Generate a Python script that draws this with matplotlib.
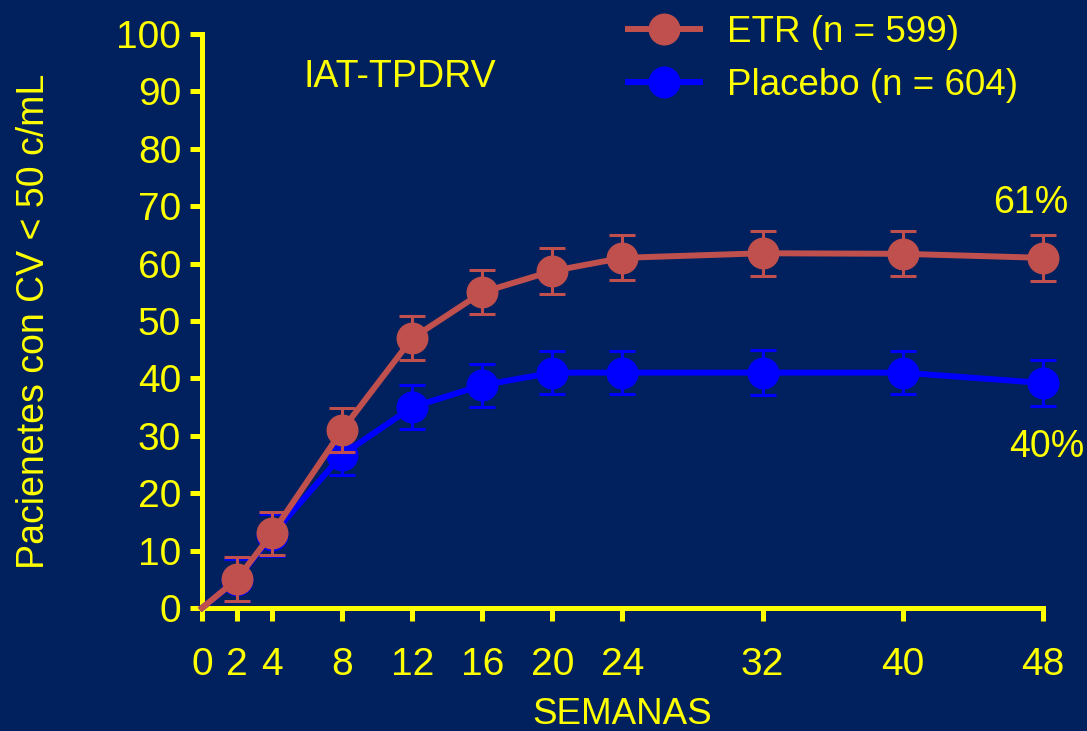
import matplotlib.pyplot as plt
from matplotlib.lines import Line2D

# Semanas de seguimiento
semanas = [0, 2, 4, 8, 12, 16, 20, 24, 32, 40, 48]

# % pacientes con CV < 50 c/mL
etr = [0, 5, 13, 31, 47, 55, 58.7, 61, 61.8, 61.7, 61]
etr_err = [0, 3.8, 3.8, 3.8, 3.8, 3.8, 4, 3.9, 3.9, 3.9, 4]

placebo = [0, 4.9, 12.7, 26.7, 35, 38.8, 41, 41, 41, 41, 39.2]
placebo_err = [0, 3.7, 3.7, 3.5, 3.9, 3.7, 3.8, 3.8, 3.9, 3.8, 4]

yticks = list(range(0, 101, 10))

FONDO = '#00205E'
AMARILLO = '#FFFF00'
ROJO = '#C0504D'
AZUL = '#0000FF'

plt.rcParams['font.family'] = ['Liberation Sans', 'DejaVu Sans']

fig = plt.figure(figsize=(10.87, 7.31), dpi=100, facecolor=FONDO)
ax = fig.add_axes([0.1858, 0.1683, 0.7737, 0.7852], facecolor=FONDO)

def serie(y, err, color, z):
  # linea desde el origen, marcadores con barras de error desde la semana 2
  ax.plot(semanas, y, color=color, lw=4.3, zorder=z, clip_on=False)
  ax.errorbar(semanas[1:], y[1:], yerr=err[1:], fmt='o', color=color,
              ms=22, elinewidth=2.2, capsize=9.5, capthick=2.2,
              zorder=z, clip_on=False)

serie(placebo, placebo_err, AZUL, 3)
serie(etr, etr_err, ROJO, 4)

ax.set_xlim(0, 48)
ax.set_ylim(0, 100)
ax.set_xticks(semanas)
ax.set_yticks(yticks)

for lado in ['top', 'right']:
  ax.spines[lado].set_visible(False)
for lado in ['left', 'bottom']:
  ax.spines[lado].set_color(AMARILLO)
  ax.spines[lado].set_linewidth(3.6)

ax.tick_params(colors=AMARILLO, labelsize=28, width=3.6, length=9, direction='out')
ax.tick_params(axis='y', pad=6)
ax.tick_params(axis='x', pad=19)

ax.set_xlabel('SEMANAS', color=AMARILLO, fontsize=26.5, labelpad=10)
ax.set_ylabel('Pacienetes con CV < 50 c/mL', color=AMARILLO, fontsize=27, labelpad=46)

ax.text(11.3, 92.5, 'IAT-TPDRV', color=AMARILLO, fontsize=27, ha='center', va='center')
ax.text(47.3, 70.5, '61%', color=AMARILLO, fontsize=27, ha='center', va='center')
ax.text(48.2, 28.0, '40%', color=AMARILLO, fontsize=27, ha='center', va='center')

handles = [
  Line2D([], [], color=ROJO, lw=4.3, marker='o', ms=22),
  Line2D([], [], color=AZUL, lw=4.3, marker='o', ms=22),
]
leg = fig.legend(handles, ['ETR (n = 599)', 'Placebo (n = 604)'],
                 loc='upper left', bbox_to_anchor=(0.547, 1.025), frameon=False,
                 fontsize=26.5, handlelength=1.96, handletextpad=0.73, labelspacing=0.5)
for t in leg.get_texts():
  t.set_color(AMARILLO)

fig.savefig('out.png', dpi=100, facecolor=FONDO)
